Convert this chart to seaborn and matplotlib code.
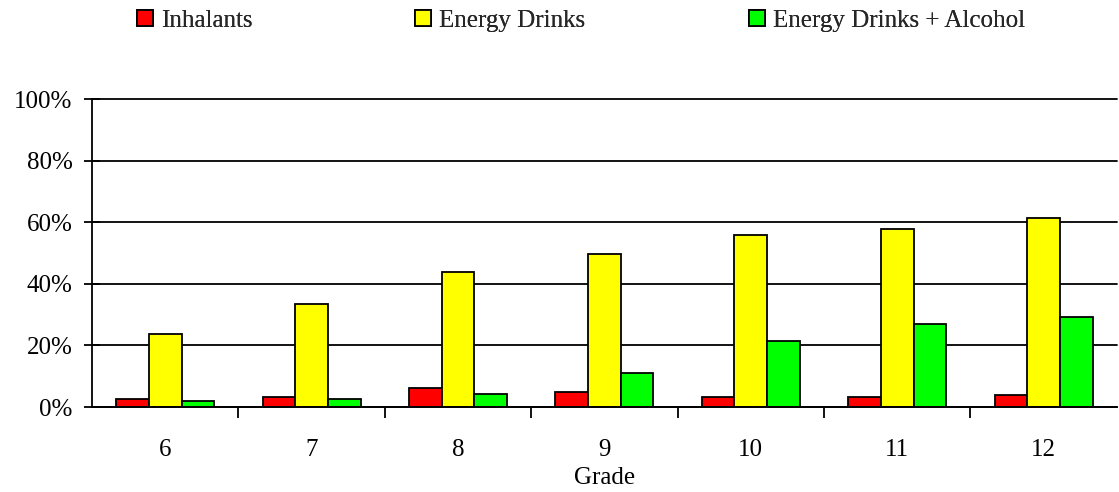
import matplotlib
matplotlib.use("Agg")
import matplotlib.pyplot as plt
import seaborn as sns
import pandas as pd
from matplotlib.patches import Patch
from matplotlib.ticker import FixedLocator, FuncFormatter

grades = ["6", "7", "8", "9", "10", "11", "12"]
inhalants = [2.6, 3.4, 6.3, 4.8, 3.4, 3.4, 4.0]
energy_drinks = [23.6, 33.4, 43.9, 49.6, 55.8, 57.8, 61.4]
energy_alcohol = [2.0, 2.6, 4.1, 11.0, 21.4, 27.0, 29.2]
series_names = ["Inhalants", "Energy Drinks", "Energy Drinks + Alcohol"]
colors = ["#FF0000", "#FFFF00", "#00FF00"]

rows = []
for name, vals in zip(series_names, [inhalants, energy_drinks, energy_alcohol]):
    for g, v in zip(grades, vals):
        rows.append({"Grade": g, "Series": name, "Value": v})
df = pd.DataFrame(rows)

sns.set_theme(style="white")
plt.rcParams["font.family"] = ["Liberation Serif", "DejaVu Serif"]
FS = 18

fig = plt.figure(figsize=(11.19, 4.92), dpi=100)
ax = fig.add_axes([92 / 1119, 1 - 407 / 492, 1 - 92 / 1119 - 0.002, (407 - 99) / 492])

sns.barplot(data=df, x="Grade", y="Value", hue="Series", order=grades,
            hue_order=series_names, palette=colors, width=0.67,
            edgecolor="black", linewidth=1.3, saturation=1, ax=ax, legend=False)

ax.set_ylim(0, 100)
ax.set_xlim(-0.5, len(grades) - 0.5)
ax.set_yticks([0, 20, 40, 60, 80, 100])
ax.yaxis.set_major_formatter(FuncFormatter(lambda v, p: f"{int(v)}%"))
ax.yaxis.grid(True, color="black", linewidth=1.3)
ax.set_axisbelow(True)
for gl in ax.get_ygridlines():
    gl.set_clip_on(False)

# major ticks at category boundaries, labels at centers
ax.xaxis.set_major_locator(FixedLocator([i + 0.5 for i in range(len(grades) - 1)]))
ax.xaxis.set_minor_locator(FixedLocator(list(range(len(grades)))))
ax.set_xticklabels([], minor=False)
ax.set_xticklabels(grades, minor=True)
ax.tick_params(axis="x", which="major", direction="out", length=8, width=1.3, color="black", bottom=True)
ax.tick_params(axis="x", which="minor", length=0, labelsize=FS, pad=23, colors="black")
ax.tick_params(axis="y", direction="inout", length=12, width=1.3, color="black", left=True,
               labelsize=FS, pad=8, colors="black")

for side in ["top", "right"]:
    ax.spines[side].set_visible(False)
for side in ["left", "bottom"]:
    ax.spines[side].set_color("black")
    ax.spines[side].set_linewidth(1.3)

ax.set_xlabel("Grade", fontsize=FS, color="black", labelpad=4)
ax.set_ylabel("")

legend_x = [137, 415, 749]
for name, c, lx in zip(series_names, colors, legend_x):
    leg = fig.legend([Patch(facecolor=c, edgecolor="black", linewidth=1.3)], [name],
                     loc="center left", bbox_to_anchor=(lx / 1119, 1 - 21 / 492),
                     frameon=False, fontsize=FS, handlelength=0.62, handleheight=0.62,
                     handletextpad=0.35, borderaxespad=0, borderpad=0)
    fig.add_artist(leg)

fig.savefig("out.png", dpi=100)
